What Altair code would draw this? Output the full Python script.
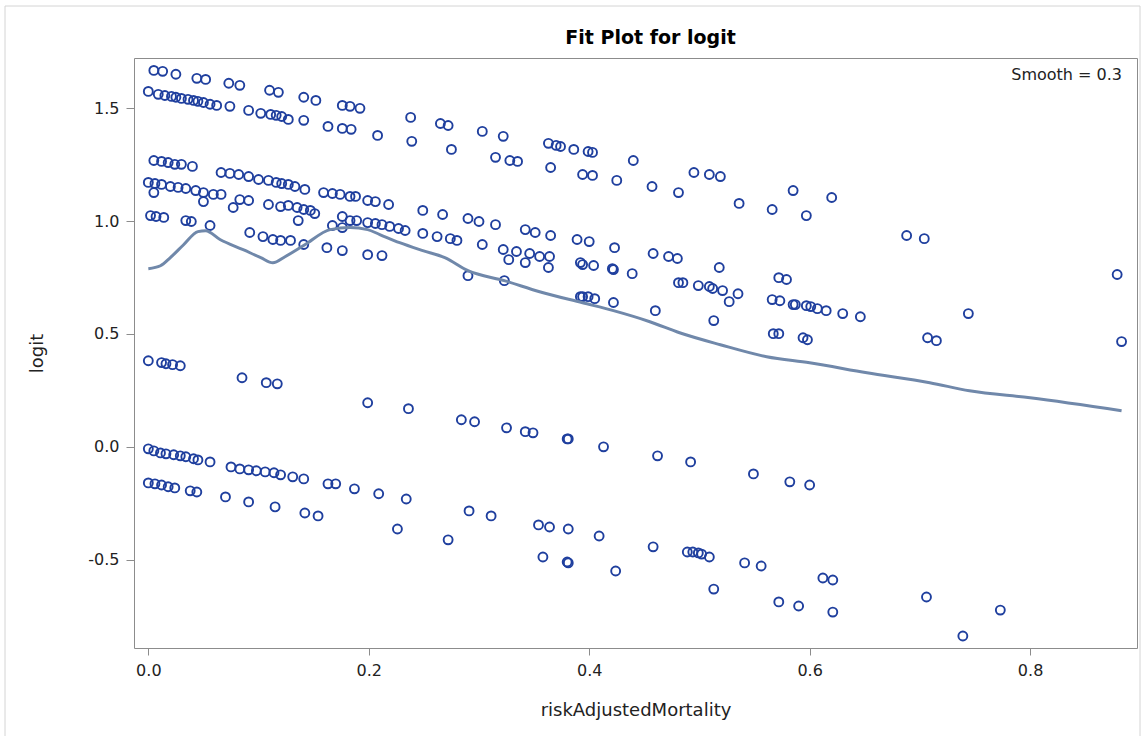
import altair as alt
import pandas as pd

# ---- data (riskAdjustedMortality, logit) ----
band_a = [(.005,1.667),(.013,1.663),(.025,1.650),(.044,1.632),(.052,1.627),(.073,1.610),(.083,1.601),
          (.110,1.579),(.118,1.570),(.141,1.548),(.152,1.534),(.176,1.512),(.183,1.508),(.192,1.499),
          (.238,1.459),(.265,1.432),(.272,1.423),(.303,1.397),(.322,1.375),(.363,1.344),(.370,1.335),
          (.374,1.330),(.386,1.317),(.399,1.308),(.403,1.304),(.440,1.268),(.495,1.215),(.509,1.206),
          (.519,1.197),(.585,1.135),(.620,1.104)]
band_b = [(0,1.574),(.009,1.561),(.015,1.556),(.021,1.552),(.025,1.548),(.030,1.543),(.036,1.539),
          (.041,1.534),(.045,1.530),(.050,1.525),(.056,1.517),(.062,1.512),(.074,1.508),(.091,1.490),
          (.102,1.477),(.111,1.472),(.116,1.468),(.121,1.463),(.127,1.450),(.141,1.446),(.163,1.419),
          (.176,1.410),(.184,1.406),(.208,1.379),(.239,1.353),(.275,1.317),(.315,1.282),(.328,1.268),
          (.335,1.264),(.365,1.237),(.394,1.206),(.403,1.202),(.425,1.180),(.457,1.153),(.481,1.126),
          (.536,1.078),(.566,1.051),(.597,1.024),(.688,0.936),(.704,0.922)]
band_c = [(.005,1.268),(.012,1.264),(.018,1.259),(.024,1.251),(.030,1.251),(.040,1.242),(.066,1.215),
          (.074,1.211),(.082,1.206),(.091,1.197),(.100,1.184),(.109,1.180),(.116,1.171),(.121,1.166),
          (.127,1.162),(.133,1.153),(.142,1.140),(.159,1.126),(.167,1.122),(.174,1.118),(.183,1.109),
          (.188,1.109),(.199,1.091),(.206,1.086),(.218,1.073),(.249,1.047),(.267,1.029),(.290,1.011),
          (.300,0.998),(.315,0.984),(.342,0.962),(.351,0.949),(.365,0.936),(.389,0.918),(.400,0.909),
          (.423,0.882),(.458,0.856),(.472,0.843),(.480,0.834),(.518,0.794),(.572,0.749),(.579,0.741),
          (.707,0.483),(.715,0.470),(.744,0.590),(.879,0.763),(.883,0.466)]
band_d = [(0,1.171),(.006,1.166),(.012,1.162),(.020,1.153),(.027,1.149),(.034,1.144),(.043,1.135),
          (.050,1.126),(.059,1.118),(.066,1.118),(.005,1.126),(.050,1.086),(.077,1.060),(.083,1.095),
          (.091,1.091),(.109,1.073),(.120,1.064),(.127,1.069),(.135,1.060),(.141,1.051),(.147,1.047),
          (.151,1.033),(.136,1.002),(.176,1.020),(.183,1.002),(.189,1.002),(.199,0.993),(.206,0.989),
          (.212,0.984),(.219,0.976),(.227,0.967),(.233,0.958),(.167,0.980),(.176,0.971),(.249,0.945),
          (.262,0.931),(.274,0.922),(.280,0.914),(.303,0.896),(.322,0.874),(.334,0.865),(.346,0.856),
          (.355,0.843),(.364,0.843),(.327,0.829),(.342,0.816),(.363,0.794),(.392,0.816),(.394,0.807),
          (.404,0.803),(.421,0.789),(.422,0.785),(.439,0.767),(.481,0.727),(.485,0.727),(.499,0.714),
          (.509,0.710),(.512,0.701),(.521,0.692),(.527,0.643),(.535,0.678),(.566,0.652),(.573,0.647),
          (.585,0.630),(.587,0.630),(.597,0.625),(.601,0.621),(.607,0.612),(.615,0.603),(.630,0.590),
          (.646,0.576),(.567,0.501),(.572,0.501),(.594,0.483),(.598,0.474),(.513,0.559)]
band_e = [(.002,1.024),(.007,1.020),(.014,1.016),(.034,1.002),(.039,0.998),(.056,0.980),(.092,0.949),
          (.104,0.931),(.113,0.918),(.120,0.914),(.129,0.914),(.141,0.896),(.162,0.882),(.176,0.869),
          (.199,0.851),(.212,0.847),(.290,0.758),(.323,0.736),(.392,0.665),(.394,0.665),(.399,0.665),
          (.405,0.656),(.422,0.639),(.460,0.603)]
band_f = [(0,0.381),(.012,0.373),(.016,0.368),(.022,0.364),(.029,0.359),(.085,0.306),(.107,0.284),
          (.117,0.279),(.199,0.195),(.236,0.169),(.284,0.120),(.296,0.111),(.325,0.084),(.342,0.067),
          (.349,0.062),(.380,0.035),(.381,0.035),(.413,0.000),(.462,-0.040),(.492,-0.067),(.549,-0.120),
          (.582,-0.155),(.600,-0.169)]
band_g = [(0,-0.009),(.005,-0.018),(.011,-0.027),(.016,-0.031),(.023,-0.035),(.029,-0.040),(.034,-0.044),
          (.041,-0.053),(.045,-0.058),(.056,-0.067),(.075,-0.089),(.083,-0.098),(.091,-0.102),(.098,-0.106),
          (.106,-0.111),(.114,-0.115),(.120,-0.124),(.131,-0.133),(.141,-0.142),(.163,-0.164),(.170,-0.164),
          (.187,-0.186),(.209,-0.208),(.234,-0.231),(.291,-0.284),(.311,-0.306),(.354,-0.346),(.364,-0.355),
          (.381,-0.364),(.409,-0.395),(.458,-0.443),(.489,-0.466),(.494,-0.466),(.499,-0.470),(.502,-0.475),
          (.509,-0.488),(.541,-0.514),(.556,-0.528),(.612,-0.581),(.621,-0.590),(.706,-0.665),(.773,-0.723)]
band_h = [(0,-0.160),(.006,-0.164),(.012,-0.169),(.018,-0.177),(.024,-0.182),(.038,-0.195),(.044,-0.200),
          (.070,-0.222),(.091,-0.244),(.115,-0.266),(.142,-0.293),(.154,-0.306),(.226,-0.364),(.272,-0.412),
          (.358,-0.488),(.380,-0.510),(.381,-0.514),(.424,-0.550),(.513,-0.630),(.572,-0.687),(.590,-0.705),
          (.621,-0.732),(.739,-0.838)]

# loess fit (Smooth = 0.3)
fit_curve = [(0,0.789),(.011,0.802),(.020,0.838),(.032,0.895),(.045,0.953),(.052,0.957),(.065,0.918),
             (.086,0.873),(.102,0.838),(.113,0.815),(.124,0.842),(.142,0.895),(.165,0.962),(.183,0.971),
             (.199,0.962),(.210,0.940),(.228,0.904),(.249,0.869),(.269,0.838),(.290,0.780),(.323,0.736),
             (.355,0.687),(.394,0.638),(.422,0.603),(.455,0.554),(.482,0.505),(.519,0.452),(.561,0.399),
             (.600,0.372),(.652,0.328),(.709,0.284),(.745,0.248),(.800,0.217),(.883,0.160)]

x_ticks = [0.0, 0.2, 0.4, 0.6, 0.8]
y_ticks = [-0.5, 0.0, 0.5, 1.0, 1.5]
x_domain = [-0.013, 0.897]
y_domain = [-0.891, 1.722]
title_text = "Fit Plot for logit"
smooth_text = "Smooth = 0.3"

rows = []
for band in (band_a, band_b, band_c, band_d, band_e, band_f, band_g, band_h):
    for x, y in band:
        rows.append({"riskAdjustedMortality": x, "logit": y})
pts = pd.DataFrame(rows)
fit = pd.DataFrame(fit_curve, columns=["riskAdjustedMortality", "logit"])

FONT = "DejaVu Sans"
W, H = 1003, 590

xs = alt.Scale(domain=x_domain, nice=False, zero=False)
ys = alt.Scale(domain=y_domain, nice=False, zero=False)
minus_fix = "replace(format(datum.value, '.1f'), '\u2212', '-')"

x_axis = alt.Axis(values=x_ticks, labelExpr=minus_fix, title="riskAdjustedMortality", grid=False,
                  domain=False, tickSize=7, tickColor="#8c8c8c", labelPadding=7, labelFontSize=16,
                  labelFont=FONT, labelColor="#222222", titleFont=FONT, titleFontSize=18,
                  titleFontWeight="normal", titleColor="#222222", titleY=62, titleBaseline="middle")
y_axis = alt.Axis(values=y_ticks, labelExpr=minus_fix, title="logit", grid=False, domain=False,
                  tickSize=8, tickColor="#8c8c8c", labelPadding=7, labelFontSize=16, labelFont=FONT,
                  labelColor="#222222", titleFont=FONT, titleFontSize=18, titleFontWeight="normal",
                  titleColor="#222222", titleX=-97, titleY=H / 2, titleAlign="center",
                  titleBaseline="middle", titleAngle=270)

frame = alt.Chart(alt.Data(values=[{"f": 1}])).mark_rect(
    fill="white", fillOpacity=0, stroke="#d4d4d4", strokeWidth=1
).encode(x=alt.value(-129), x2=alt.value(W + 3), y=alt.value(-52), y2=alt.value(H + 95))

points = alt.Chart(pts).mark_point(
    shape="circle", filled=False, size=80, strokeWidth=1.9, color="#1f3f9e", opacity=1
).encode(
    x=alt.X("riskAdjustedMortality:Q", scale=xs, axis=x_axis),
    y=alt.Y("logit:Q", scale=ys, axis=y_axis),
)

line = alt.Chart(fit).mark_line(color="#7088aa", strokeWidth=3, interpolate="monotone").encode(
    x=alt.X("riskAdjustedMortality:Q", scale=xs),
    y=alt.Y("logit:Q", scale=ys),
)

label = alt.Chart(alt.Data(values=[{"t": smooth_text}])).mark_text(
    align="right", baseline="middle", fontSize=16, font=FONT, color="#222222"
).encode(text="t:N", x=alt.value(W - 15), y=alt.value(17))

title = alt.Chart(alt.Data(values=[{"t": title_text}])).mark_text(
    align="center", baseline="middle", fontSize=19, font=FONT, fontWeight="bold", color="#000000"
).encode(text="t:N", x=alt.value(W / 2 + 15), y=alt.value(-20))

chart = alt.layer(frame, points, line, label, title).properties(
    width=W, height=H,
    autosize=alt.AutoSizeParams(type="none"),
    padding={"left": 134, "top": 58, "right": 8, "bottom": 88},
).configure_view(stroke="#8c8c8c", strokeWidth=1)

chart.save("out.html", embed_options={"renderer": "svg", "actions": False})
